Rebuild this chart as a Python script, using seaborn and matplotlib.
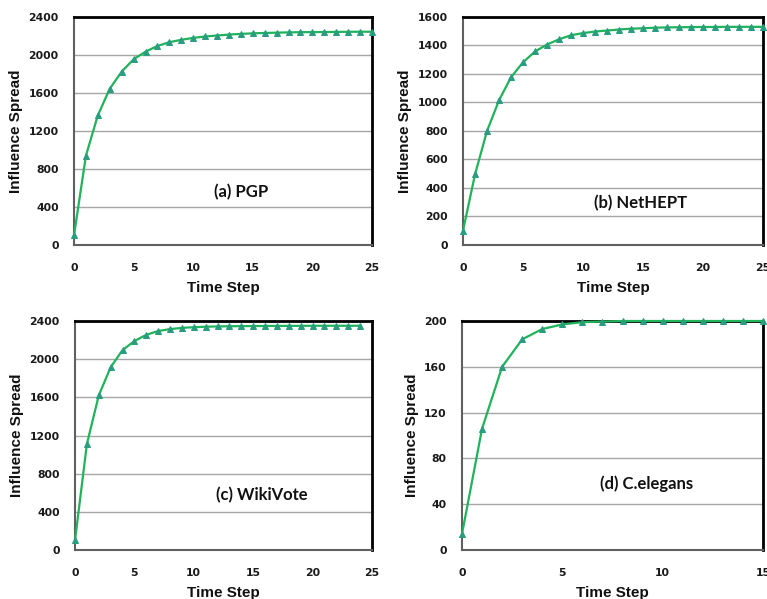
import matplotlib
matplotlib.use("Agg")
import matplotlib.pyplot as plt
import numpy as np
import pandas as pd
import seaborn as sns

# Influence spread per time step for each network
pgp = [100, 940, 1365, 1645, 1825, 1955, 2035, 2095, 2135, 2160, 2180, 2195, 2205,
       2215, 2222, 2228, 2232, 2235, 2238, 2240, 2241, 2242, 2243, 2244, 2245, 2245]
nethept = [100, 495, 800, 1015, 1177, 1282, 1358, 1407, 1443, 1472, 1487, 1498, 1505,
           1512, 1518, 1521, 1525, 1527, 1528, 1529, 1530, 1530, 1531, 1531, 1531, 1531]
wikivote = [100, 1110, 1620, 1915, 2095, 2190, 2255, 2295, 2315, 2328, 2335, 2340, 2343,
            2345, 2346, 2347, 2348, 2348, 2349, 2349, 2350, 2350, 2350, 2350, 2350]
celegans = [14, 106, 160, 184, 193, 197, 199, 199.5, 200, 200, 200, 200, 200, 200, 200, 200]

titles = ["(a) PGP", "(b) NetHEPT", "(c) WikiVote", "(d) C.elegans"]
series = [pgp, nethept, wikivote, celegans]
x_max = [25, 25, 25, 15]
x_step = [5, 5, 5, 5]
y_max = [2400, 1600, 2400, 200]
y_step = [400, 200, 400, 40]
label_pos = [(14.0, 560), (14.8, 295), (15.7, 576), (9.2, 58)]

sns.set_style("white")
plt.rcParams["font.family"] = ["DejaVu Sans"]

W, H = 767, 599
fig = plt.figure(figsize=(W / 100, H / 100), dpi=100)

# axes boxes in pixels: left, top, right, bottom
boxes = [(74, 17, 372, 245), (463, 17, 763, 245),
         (75, 321, 372, 550), (462, 321, 763, 550)]

line_color = "#1fb35a"
marker_color = "#2a9d80"

for i, (vals, box) in enumerate(zip(series, boxes)):
    l, t, r, b = box
    ax = fig.add_axes([l / W, 1 - b / H, (r - l) / W, (b - t) / H])
    df = pd.DataFrame({"Time Step": np.arange(len(vals)), "Influence Spread": vals})
    sns.lineplot(data=df, x="Time Step", y="Influence Spread", ax=ax,
                 color=line_color, linewidth=1.6, marker="^", markersize=4.6,
                 markerfacecolor=marker_color, markeredgecolor=marker_color,
                 clip_on=False, zorder=3)
    ax.set_xlim(0, x_max[i])
    ax.set_ylim(0, y_max[i])
    ax.set_xticks(np.arange(0, x_max[i] + 1, x_step[i]))
    ax.set_yticks(np.arange(0, y_max[i] + 1, y_step[i]))
    ax.yaxis.grid(True, color="#a6a6a6", linewidth=1.0)
    ax.set_axisbelow(True)
    ax.tick_params(axis="x", direction="in", length=4, width=0.8, color="#808080",
                   pad=13, labelsize=7.8, labelcolor="#1a1a1a")
    ax.tick_params(axis="y", length=0, pad=11, labelsize=7.8, labelcolor="#1a1a1a")
    for lab in ax.get_xticklabels() + ax.get_yticklabels():
        lab.set_fontweight("bold")
    ax.set_xlabel("Time Step", fontsize=11, fontweight="bold",
                  family="Liberation Sans", labelpad=6, color="#111111")
    ax.set_ylabel("Influence Spread", fontsize=11, fontweight="bold",
                  family="Liberation Sans", labelpad=4, color="#111111")
    ax.spines["left"].set_color("#606060")
    ax.spines["bottom"].set_color("#606060")
    ax.spines["left"].set_linewidth(1.5)
    ax.spines["bottom"].set_linewidth(1.5)
    ax.spines["top"].set_color("black")
    ax.spines["right"].set_color("black")
    ax.spines["top"].set_linewidth(2.0)
    ax.spines["right"].set_linewidth(2.0)
    for s in ax.spines.values():
        s.set_visible(True)
    tx, ty = label_pos[i]
    ax.text(tx, ty, titles[i], ha="center", va="center", fontsize=12,
            fontweight="bold", family="Lato", color="#111111")

fig.savefig("out.png", dpi=100)
